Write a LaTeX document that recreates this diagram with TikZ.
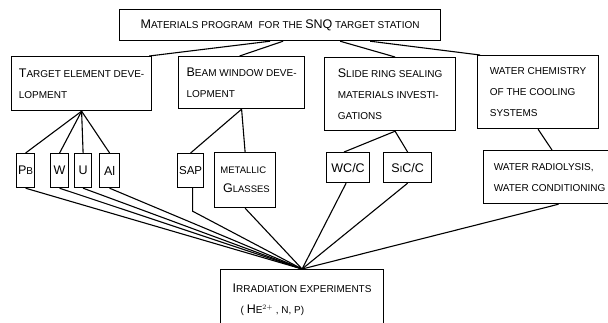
\documentclass[tikz,border=0pt]{standalone}
\usepackage{fontspec}
\setmainfont{Liberation Sans}
\usetikzlibrary{calc}
\newcommand\bigc[1]{{\fontsize{12.5}{12.5}\selectfont #1}}
\tikzset{
  box/.style={draw, line width=1.2pt, inner sep=0pt, anchor=north west, align=left,
              font=\fontsize{10}{21}\selectfont},
  link/.style={line width=1.1pt, line join=round}
}
\begin{document}
\begin{tikzpicture}[x=1pt,y=-1pt]
\fill[white] (0,0) rectangle (608,322);
\useasboundingbox (0,0) rectangle (608,322);
% top
\node[box, minimum width=321pt, minimum height=31pt] (top) at (119,9)
  {\bigc{M}ATERIALS PROGRAM\ \ FOR THE \bigc{SNQ} TARGET STATION};
% level 2
\node[box, minimum width=140pt, minimum height=54pt] (b1) at (11,56)
  {\bigc{T}ARGET ELEMENT DEVE-\\LOPMENT};
\node[box, minimum width=126pt, minimum height=52pt] (b2) at (178,56)
  {\bigc{B}EAM WINDOW DEVE-\\LOPMENT};
\node[box, minimum width=131pt, minimum height=73pt] (b3) at (324,57)
  {\bigc{S}LIDE RING SEALING\\MATERIALS INVESTI-\\GATIONS};
\node[box, minimum width=121pt, minimum height=73pt] (b4) at (477,55)
  {WATER CHEMISTRY\\OF THE COOLING\\SYSTEMS};
% level 3
\node[box, minimum width=18pt, minimum height=34pt] (pb) at (16,153) {\bigc{P}B};
\node[box, minimum width=18pt, minimum height=34pt] (w) at (50,153) {\bigc{W}};
\node[box, minimum width=17pt, minimum height=34pt] (u) at (74,153) {\bigc{U}};
\node[box, minimum width=20pt, minimum height=34pt] (al) at (99,153) {\bigc{Al}};
\node[box, minimum width=26pt, minimum height=34pt] (sap) at (177,153)
  {{\fontsize{11.5}{11.5}\selectfont SAP}};
\node[box, minimum width=61pt, minimum height=55pt, font=\fontsize{9.5}{19}\selectfont] (mg) at (214,152)
  {METALLIC\\\ \bigc{G}LASSES};
\node[box, minimum width=43pt, minimum height=30pt] (wc) at (326,152) {\bigc{WC/C}};
\node[box, minimum width=48pt, minimum height=30pt] (sic) at (383,152)
  {\bigc{S}{\fontsize{9}{9}\selectfont I}\bigc{C/C}};
\node[box, minimum width=132pt, minimum height=53pt] (wr) at (483,150)
  {WATER RADIOLYSIS,\\WATER CONDITIONING\hspace{6pt}};
% bottom
\node[box, minimum width=163pt, minimum height=60pt] (irr) at (220,269)
  {\bigc{I}RRADIATION EXPERIMENTS\\\hspace{8pt}( \bigc{H}E$^{2+}$ , N, P)};
% connectors top -> level 2
\draw[link] ([xshift=-10pt]top.south) -- ([xshift=-3pt]b1.north east);
\draw[link] ([xshift=3pt]top.south) -- ([xshift=-2pt]b2.north);
\draw[link] ([xshift=60pt]top.south) -- ([xshift=5pt]b3.north);
\draw[link] ([xshift=90pt]top.south) -- ([xshift=3pt]b4.north west);
% level 2 -> level 3
\foreach \n in {pb,w,u,al} \draw[link] (b1.south) -- (\n.north);
\draw[link] (b2.south) -- (sap.north);
\draw[link] (b2.south) -- (mg.north);
\draw[link] ([xshift=5pt]b3.south) -- ([xshift=-4pt]wc.north);
\draw[link] ([xshift=5pt]b3.south) -- (sic.north);
\draw[link] (b4.south) -- ([xshift=69pt]wr.north west);
% level 3 -> bottom
\foreach \n in {pb,w,u,al,mg,sic} \draw[link] (\n.south) -- (irr.north);
\draw[link] ([xshift=2pt]sap.south) -- ([xshift=2pt,yshift=-23pt]sap.south) -- (irr.north);
\draw[link] ([xshift=-2pt]wc.south) -- (irr.north);
\draw[link] ([xshift=9pt]wr.south) -- (irr.north);
\end{tikzpicture}
\end{document}
